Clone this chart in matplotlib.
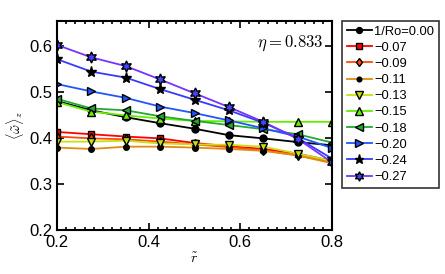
import numpy as np
import matplotlib
matplotlib.use("Agg")
from matplotlib import pyplot as plt
from matplotlib.ticker import MultipleLocator

plt.rcParams['font.family'] = ['Liberation Sans', 'DejaVu Sans']
plt.rcParams['mathtext.fontset'] = 'cm'

r = [0.2, 0.275, 0.35, 0.425, 0.5, 0.575, 0.65, 0.725, 0.8]

labels = ["1/Ro=0.00", "\u22120.07", "\u22120.09", "\u22120.11", "\u22120.13",
          "\u22120.15", "\u22120.18", "\u22120.20", "\u22120.24", "\u22120.27"]

w_000 = [0.480, 0.460, 0.445, 0.432, 0.420, 0.406, 0.399, 0.391, 0.384]
w_007 = [0.413, 0.408, 0.403, 0.399, 0.389, 0.382, 0.376, 0.366, 0.350]
w_009 = [0.403, 0.399, 0.397, 0.392, 0.386, 0.380, 0.373, 0.362, 0.347]
w_011 = [0.379, 0.376, 0.381, 0.381, 0.379, 0.376, 0.372, 0.362, 0.345]
w_013 = [0.392, 0.392, 0.394, 0.388, 0.386, 0.385, 0.381, 0.366, 0.350]
w_015 = [0.478, 0.457, 0.449, 0.442, 0.437, 0.436, 0.435, 0.435, 0.435]
w_018 = [0.485, 0.464, 0.460, 0.447, 0.437, 0.428, 0.419, 0.408, 0.390]
w_020 = [0.517, 0.501, 0.487, 0.468, 0.454, 0.438, 0.421, 0.403, 0.378]
w_024 = [0.571, 0.544, 0.531, 0.506, 0.483, 0.460, 0.433, 0.400, 0.355]
w_027 = [0.602, 0.575, 0.556, 0.527, 0.497, 0.467, 0.435, 0.398, 0.347]

series = [w_000, w_007, w_009, w_011, w_013, w_015, w_018, w_020, w_024, w_027]
colors = ['black', '#ff0000', '#ff4a10', '#e08c10', '#c8e010', '#66ee00',
          '#22aa33', '#2255ff', '#3a3aff', '#7733ff']
markers = ['o', 's', 'd', 'o', 'v', '^', '<', '>', '*', (6, 1, 0)]
faces = ['black', '#ff0000', '#ff4a10', 'black', '#c8e010', '#66ee00',
         '#22aa33', '#2255ff', 'black', '#4444ff']
sizes = [5, 5, 5, 4, 6, 6, 6, 6, 8, 8]

fig = plt.figure(figsize=(4.45, 2.74), dpi=100)
ax = fig.add_axes([57/445, 1 - 230/274, 275/445, 209/274])

for y, c, m, fc, ms, lab in zip(series, colors, markers, faces, sizes, labels):
    ax.plot(r, y, color=c, marker=m, markerfacecolor=fc, markeredgecolor='black',
            markersize=ms, linewidth=1.3, label=lab)

ax.set_xlim(0.2, 0.8)
ax.set_ylim(0.2, 0.654)
ax.xaxis.set_major_locator(MultipleLocator(0.2))
ax.xaxis.set_minor_locator(MultipleLocator(0.02))
ax.yaxis.set_major_locator(MultipleLocator(0.1))
ax.tick_params(which='both', direction='in', top=True, right=True, labelsize=12, width=1.2)
ax.tick_params(which='major', length=5)
ax.tick_params(which='minor', length=2.5)
for s in ax.spines.values():
    s.set_linewidth(1.5)

ax.set_xlabel(r'$\tilde{r}$', fontsize=10, labelpad=1)
ax.set_ylabel(r'$\langle\tilde{\omega}\rangle_z$', fontsize=10, labelpad=2)
ax.text(0.97, 0.94, r'$\eta = 0.833$', transform=ax.transAxes, ha='right', va='top', fontsize=12)

leg = ax.legend(loc='upper left', bbox_to_anchor=(342/275 - 57/275, 1.0), fontsize=9.3,
                frameon=True, fancybox=False, edgecolor='black', borderpad=0.35,
                labelspacing=0.32, handlelength=2.0, handletextpad=0.15, borderaxespad=0,
                markerscale=0.85)
leg.get_frame().set_linewidth(1.2)

fig.savefig('out.png', dpi=100)
